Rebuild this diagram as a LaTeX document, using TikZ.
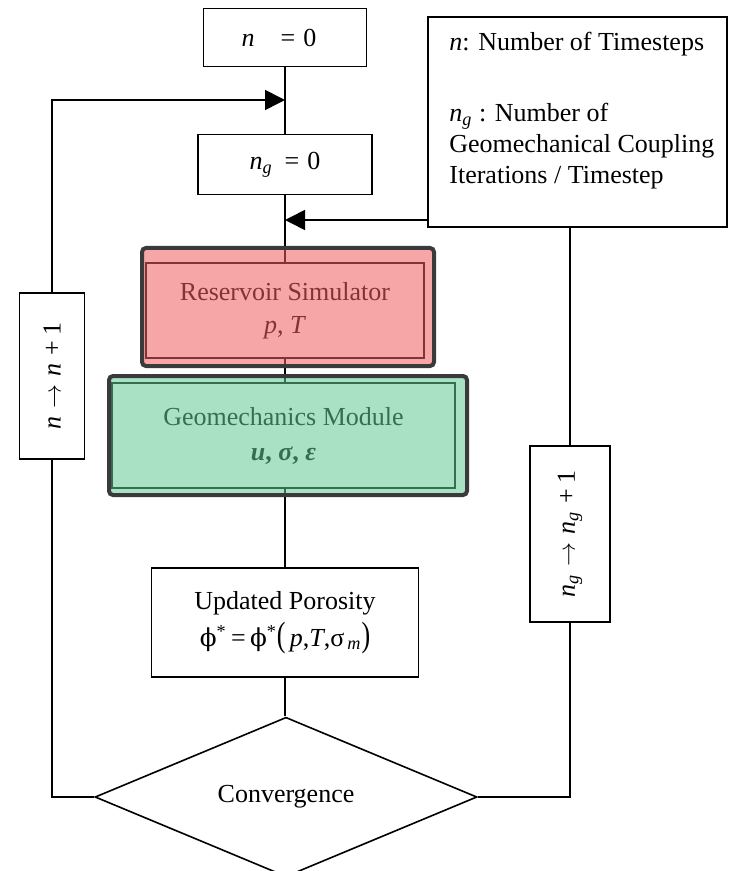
\documentclass[tikz,border=0pt]{standalone}
\usepackage{fontspec}
\setmainfont{Liberation Serif}
\newfontfamily\phifont[Scale=0.95]{DejaVu Serif}
\usepackage{graphicx}
\usetikzlibrary{shapes.geometric,arrows.meta}
\definecolor{redov}{RGB}{242,93,97}
\definecolor{greenov}{RGB}{97,202,148}
\definecolor{ovborder}{RGB}{58,58,58}
\begin{document}
\begin{tikzpicture}[x=0.5pt,y=-0.5pt,
  every node/.style={font=\fontsize{13}{15.5}\selectfont},
  box/.style={draw=black,line width=0.8pt,fill=white,inner sep=0pt,align=center},
  conn/.style={draw=black,line width=0.8pt},
  arr/.style={conn,-{Triangle[length=10pt,width=10pt]}},
  overlay/.style={fill opacity=0.55,draw=ovborder,draw opacity=1,line width=2pt,rounded corners=2pt,inner sep=0pt}]
\useasboundingbox (0,0) rectangle (729,871);
\fill[white] (0,0) rectangle (729,871);

% main column
\node[box,minimum width=81.5pt,minimum height=29pt] (n0) at (285,37.5) {\hspace*{-6pt}\textit{n}\hspace{13pt}=\hspace{4pt}0};
\node[box,minimum width=87pt,minimum height=30pt] (ng) at (285,164.5) {\textit{n}\textsubscript{\textit{g}}\hspace{6pt}=\hspace{4pt}0};
\node[box,minimum width=149.5pt,minimum height=105pt] (legend) at (577.5,122) {};
\node[anchor=north west,align=left,inner sep=0pt] (legtext) at (449,32)
  {\textit{n}: Number of Timesteps\\[20pt]
   \textit{n}\textsubscript{\textit{g}} : Number of\\
   Geomechanical Coupling\\
   Iterations / Timestep};
\node[box,minimum width=139pt,minimum height=47.5pt] (res) at (285,310.5)
  {Reservoir Simulator\\[1pt] \textit{p}, \textit{T}};
\node[box,minimum width=171.5pt,minimum height=52.5pt] (geo) at (283.5,435.5)
  {Geomechanics Module\\[2pt] \textbf{\textit{u}, \textit{σ}, \textit{ε}}};
\node[box,minimum width=133.5pt,minimum height=54.5pt] (poro) at (285,622.5)
  {Updated Porosity\\[3pt] {\phifont ϕ}\textsuperscript{*}\,=\,{\phifont ϕ}\textsuperscript{*}\scalebox{1}[1.35]{(}\,\textit{p},\textit{T},σ\textsubscript{\,\textit{m}}\scalebox{1}[1.35]{)}};
\node[box,diamond,minimum width=191pt,minimum height=75.5pt] (diam) at (286,797) {Convergence};

% side boxes
\node[box,minimum width=32.5pt,minimum height=83pt] (lbox) at (52,376)
  {\rotatebox{90}{\textit{n}\hspace{4pt}$\rightarrow$\hspace{4pt}\textit{n}\hspace{4pt}+\hspace{3pt}1}};
\node[box,minimum width=40pt,minimum height=88pt] (rbox) at (570,534)
  {\rotatebox{90}{\textit{n}\textsubscript{\textit{g}}\hspace{4pt}$\rightarrow$\hspace{4pt}\textit{n}\textsubscript{\textit{g}}\hspace{4pt}+\hspace{3pt}1}};

\coordinate (j1) at (285,100);
\coordinate (j2) at (285,220);

% connectors
\draw[conn] (n0.south) -- (ng.north);
\draw[conn] (ng.south) -- (res.north);
\draw[conn] (res.south) -- (geo.north -| res.south);
\draw[conn] (geo.south -| res.south) -- (poro.north);
\draw[conn] (poro.south) -- (diam.north -| poro.south);
\draw[conn] (diam.west) -| (lbox.south);
\draw[arr] (lbox.north) |- (j1);
\draw[conn] (diam.east) -| (rbox.south);
\draw[conn] (rbox.north) -- (rbox.north |- legend.south);
\draw[arr] (j2 -| legend.west) -- (j2);

% highlight overlays
\node[overlay,fill=redov,minimum width=146pt,minimum height=59pt] (resov) at (288,307) {};
\node[overlay,fill=greenov,minimum width=179pt,minimum height=59.5pt] (geoov) at (288,435.5) {};
\end{tikzpicture}
\end{document}
